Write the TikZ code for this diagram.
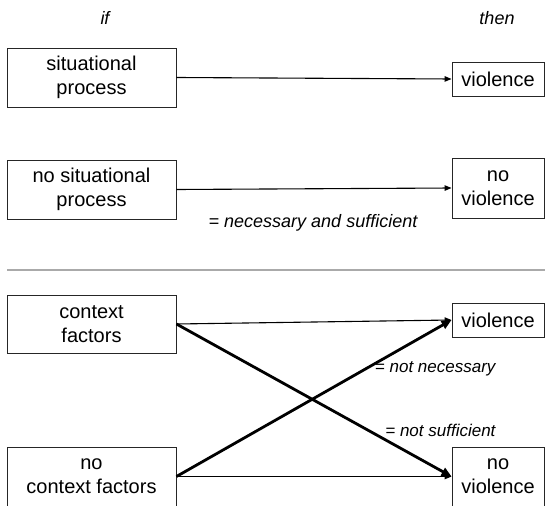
\documentclass[tikz,border=0pt]{standalone}
\usepackage{fontspec}
\setmainfont{Liberation Sans}
\usetikzlibrary{arrows.meta}
\definecolor{rulegray}{RGB}{170,170,170}

\begin{document}
\begin{tikzpicture}[x=1pt, y=-1pt,
    cause/.style={draw=black!85, line width=0.9pt, align=center, minimum width=169pt,
      minimum height=59pt, inner sep=1pt, font=\fontsize{20}{24}\selectfont},
    effect/.style={draw=black!85, line width=0.9pt, align=center, minimum width=92pt,
      inner sep=1pt, font=\fontsize{20}{24}\selectfont},
    note/.style={font=\fontsize{18}{21}\selectfont\itshape},
    small note/.style={font=\fontsize{17}{20}\selectfont\itshape, anchor=east},
    thin arrow/.style={line width=1.1pt, -{Triangle[length=7pt,width=5.5pt]}},
    thick arrow/.style={line width=2.8pt, -{Triangle[length=10pt,width=8.5pt]}}]
  \useasboundingbox (0,0) rectangle (545,505);
  \clip (0,0) rectangle (545,505);
  % column heads
  \node[note] (ifhead) at (105,18) {if};
  \node[note] (thenhead) at (497,18) {then};
  % upper half: situational process
  \node[cause] (sit) at (91.5,77.5) {situational\\process};
  \node[effect, minimum height=34pt] (vio1) at (498,79) {violence};
  \node[cause] (nosit) at (91.5,189.5) {no situational\\process};
  \node[effect, minimum height=60pt] (novio1) at (498,188) {no\\violence};
  \draw[thin arrow] (sit.east) -- (vio1.west);
  \draw[thin arrow] (nosit.east) -- (novio1.west);
  \node[note] (nas) at (313,223) {= necessary and sufficient};
  % separator
  \draw[rulegray, line width=1.4pt] (7,270) -- (545,270);
  % lower half: context factors
  \node[cause, minimum height=58pt] (ctx) at (91.5,324) {context\\factors};
  \node[effect, minimum height=34pt] (vio2) at (498,320) {violence};
  \node[cause] (noctx) at (91.5,476.5) {no\\context factors};
  \node[effect, minimum height=59pt] (novio2) at (498,476.5) {no\\violence};
  \draw[thin arrow] (ctx.east) -- (vio2.west);
  \draw[thin arrow] (noctx.east) -- (novio2.west);
  \draw[thick arrow] (ctx.east) -- (novio2.west);
  \draw[thick arrow] (noctx.east) -- (vio2.west);
  \node[small note] (notnec) at (499,369) {= not necessary};
  \node[small note] (notsuf) at (499,430) {= not sufficient};
\end{tikzpicture}
\end{document}
